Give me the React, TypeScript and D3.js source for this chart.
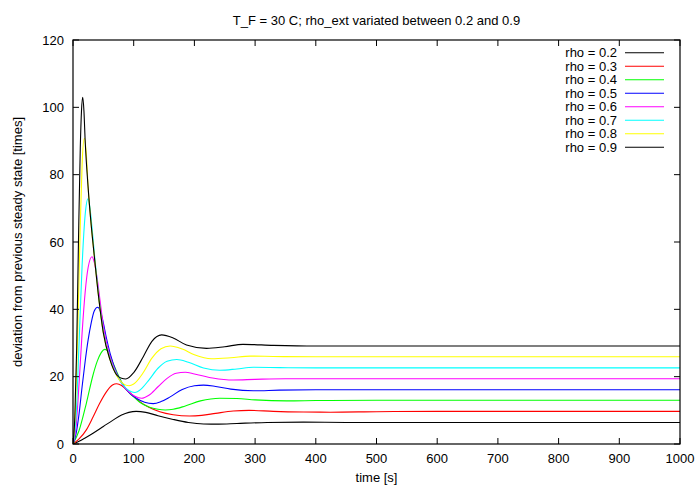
import React from "react";
import * as d3 from "d3";

const title = "T_F = 30 C; rho_ext variated between 0.2 and 0.9";
const xLabel = "time [s]";
const yLabel = "deviation from previous steady state [times]";
const xTicks = [0, 100, 200, 300, 400, 500, 600, 700, 800, 900, 1000];
const yTicks = [0, 20, 40, 60, 80, 100, 120];
const seriesNames = ["rho = 0.2", "rho = 0.3", "rho = 0.4", "rho = 0.5", "rho = 0.6", "rho = 0.7", "rho = 0.8", "rho = 0.9"];
const seriesColors = ["#000000", "#ff0000", "#00ff00", "#0000ff", "#ff00ff", "#00ffff", "#ffff00", "#000000"];

// [time, value] samples
const rho02: [number, number][] = [
  [0, 0], [10, 0.8], [20, 1.8], [33, 3.2], [50, 5.2], [66, 7.1], [80, 8.6], [92, 9.4], [104, 9.7],
  [120, 9.4], [140, 8.4], [165, 7.3], [190, 6.4], [215, 5.95], [240, 5.9], [270, 6.1], [320, 6.4],
  [380, 6.5], [450, 6.4], [1000, 6.4],
];
const rho03: [number, number][] = [
  [0, 0], [10, 1.5], [22, 4.2], [33, 8], [44, 12.1], [55, 15.5], [65, 17.5], [72, 17.9], [80, 17.4],
  [90, 15.8], [100, 14.2], [110, 12.6], [125, 10.9], [143, 9.6], [165, 8.7], [192, 8.3], [212, 8.5],
  [235, 9.1], [264, 9.8], [290, 10], [330, 9.7], [380, 9.5], [424, 9.45], [500, 9.6], [600, 9.7], [1000, 9.7],
];
const rho04: [number, number][] = [
  [0, 0], [10, 4], [22, 12.1], [33, 20.5], [40, 24.6], [46, 27], [52.7, 28.1], [58, 27.5], [65, 24.5],
  [72, 21.5], [82, 17.8], [92, 15.3], [100, 14], [110, 12.4], [125, 11], [140, 10.3], [152, 10.1],
  [165, 10.3], [185, 11.3], [210, 12.8], [242, 13.6], [270, 13.5], [300, 13.1], [352, 12.8], [400, 12.9],
  [500, 13], [1000, 13],
];
const rho05: [number, number][] = [
  [0, 0], [5, 3], [10, 9], [15, 17], [20, 24.5], [25, 31], [30, 36], [35, 39.5], [40.6, 40.6], [45, 39.5],
  [50, 36], [55, 31.5], [61, 27], [72, 21], [82, 17.6], [92, 15.3], [105, 13.5], [118, 12.4], [132, 12],
  [145, 12.6], [160, 14], [180, 16.2], [200, 17.3], [215, 17.5], [235, 17.1], [260, 16.3], [297, 15.8],
  [340, 16], [400, 16.1], [1000, 16.1],
];
const rho06: [number, number][] = [
  [0, 0], [5, 5], [10, 18], [15, 33], [20, 45], [25, 52.5], [31.3, 55.6], [35, 54], [40, 49], [45, 42],
  [50, 35], [61, 26], [72, 20.8], [82, 17.5], [92, 15.5], [102, 14.2], [113, 13.6], [125, 14.5],
  [140, 17], [155, 19.5], [170, 21], [185, 21.3], [200, 20.8], [230, 19.6], [264, 19.0], [300, 19.2],
  [350, 19.4], [1000, 19.4],
];
const rho07: [number, number][] = [
  [0, 0], [5, 8], [10, 30], [15, 53], [20, 68], [24.7, 72.8], [28, 70], [32, 63], [36, 55], [42, 44.5],
  [50, 33.5], [61, 25.3], [72, 20.5], [82, 17.6], [92, 15.9], [102, 15.3], [112, 16.3], [125, 19],
  [140, 22.5], [155, 24.6], [171, 25.1], [190, 24.3], [215, 22.6], [242, 21.9], [270, 22.3], [297, 22.8],
  [340, 22.7], [400, 22.6], [1000, 22.6],
];
const rho08: [number, number][] = [
  [0, 0], [4, 10], [8, 35], [12, 65], [15, 83], [18.6, 90.8], [22, 86], [25, 76], [30, 65], [35, 56],
  [42, 44], [50, 33], [61, 25], [72, 20.3], [82, 18], [92, 17.3], [100, 17.8], [115, 21], [130, 25.5],
  [145, 28.3], [160, 29.1], [180, 28.2], [200, 26.5], [228, 25.3], [260, 25.6], [292, 26.1], [330, 26],
  [400, 25.9], [1000, 25.9],
];
const rho09: [number, number][] = [
  [0, 0], [3, 8], [6, 28], [9, 60], [12, 88], [14, 99], [16, 103], [18, 99], [20, 90.3], [25, 76],
  [30, 65], [35, 56], [42, 44], [50, 33], [61, 25], [72, 20.5], [80, 19.5], [87, 19.3], [100, 21.2],
  [116, 26], [130, 30.5], [146, 32.4], [165, 31.5], [187, 29.4], [220, 28.4], [250, 28.9], [280, 29.6],
  [330, 29.3], [400, 29.1], [1000, 29.1],
];
const seriesData = [rho02, rho03, rho04, rho05, rho06, rho07, rho08, rho09];

const W = 700, H = 487;
const L = 73, R = 680, T = 40, B = 444;
const FONT = "'Liberation Sans', Arial, Helvetica, sans-serif";
const FS = 13;

export default function App() {
  const x = d3.scaleLinear().domain([0, 1000]).range([L, R]);
  const y = d3.scaleLinear().domain([0, 120]).range([B, T]);
  const line = d3
    .line<[number, number]>()
    .x((d) => x(d[0]))
    .y((d) => y(d[1]))
    .curve(d3.curveMonotoneX);
  const tick = 6;
  const legX = 617, legY0 = 52.7, legDy = 13.5;

  return (
    <svg width={W} height={H} style={{ position: "absolute", left: 0, top: 0, background: "#fff" }} fontFamily={FONT}>
      <rect x={0} y={0} width={W} height={H} fill="#fff" />
      <defs>
        <clipPath id="plot">
          <rect x={L} y={T} width={R - L} height={B - T} />
        </clipPath>
      </defs>
      <g clipPath="url(#plot)">
        {seriesData.map((d, i) => (
          <path key={i} d={line(d) || ""} fill="none" stroke={seriesColors[i]} strokeWidth={1.1} />
        ))}
      </g>
      {xTicks.map((t) => (
        <g key={"xt" + t}>
          <line x1={x(t)} x2={x(t)} y1={B} y2={B - tick} stroke="#000" />
          <line x1={x(t)} x2={x(t)} y1={T} y2={T + tick} stroke="#000" />
          <text x={x(t)} y={463} fontSize={FS} textAnchor="middle" fill="#000">{t}</text>
        </g>
      ))}
      {yTicks.map((t) => (
        <g key={"yt" + t}>
          <line x1={L} x2={L + tick} y1={y(t)} y2={y(t)} stroke="#000" />
          <line x1={R} x2={R - tick} y1={y(t)} y2={y(t)} stroke="#000" />
          <text x={64} y={y(t) + 4.7} fontSize={FS} textAnchor="end" fill="#000">{t}</text>
        </g>
      ))}
      <rect x={L} y={T} width={R - L} height={B - T} fill="none" stroke="#000" strokeWidth={1.2} />
      {seriesNames.map((n, i) => (
        <g key={"lg" + i}>
          <text x={legX} y={legY0 + i * legDy + 4.6} fontSize={FS} textAnchor="end" fill="#000">{n}</text>
          <line x1={625} x2={664} y1={legY0 + i * legDy} y2={legY0 + i * legDy} stroke={seriesColors[i]} strokeWidth={1.1} />
        </g>
      ))}
      <text x={(L + R) / 2} y={25} fontSize={FS} textAnchor="middle" fill="#000">{title}</text>
      <text x={(L + R) / 2} y={482} fontSize={FS} textAnchor="middle" fill="#000">{xLabel}</text>
      <text transform={`translate(22, ${(T + B) / 2}) rotate(-90)`} fontSize={FS} textAnchor="middle" fill="#000">{yLabel}</text>
    </svg>
  );
}
